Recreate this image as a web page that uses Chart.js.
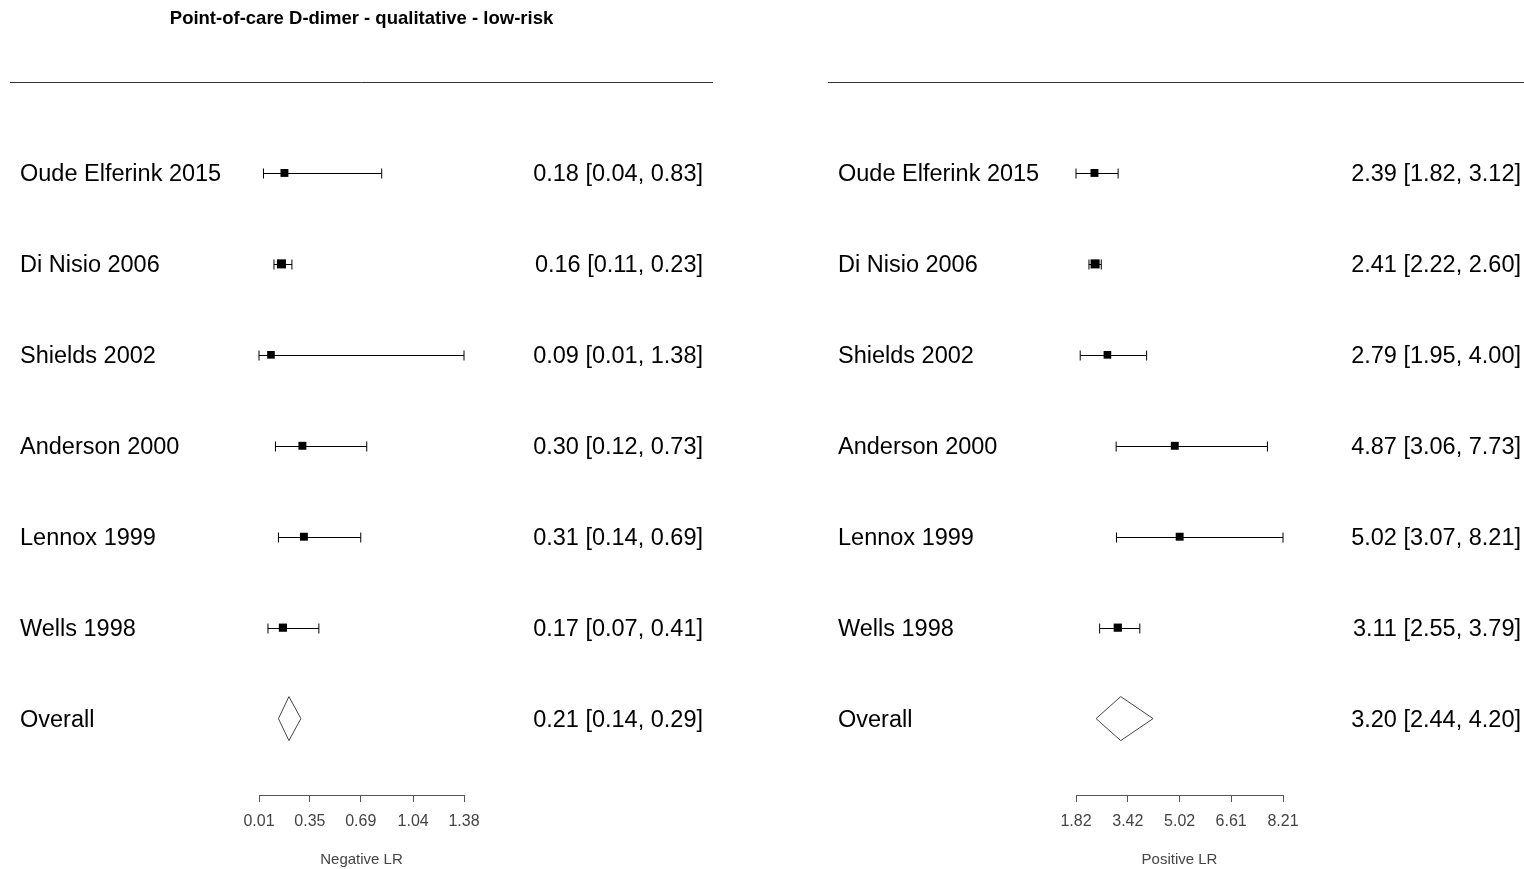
<!DOCTYPE html>
<html>
<head>
<meta charset="utf-8">
<script src="https://cdn.jsdelivr.net/npm/chart.js@4.4.1/dist/chart.umd.min.js"></script>
<style>
  html, body { margin: 0; padding: 0; background: #fff; }
  #wrap { position: relative; width: 1524px; height: 869px; }
  #wrap canvas { position: absolute; left: 0; top: 0; }
</style>
</head>
<body>
<div id="wrap">
  <canvas id="negChart" width="1524" height="869"></canvas>
  <canvas id="posChart" width="1524" height="869"></canvas>
</div>
<script>
// Forest plot data (last row is the pooled estimate)
const studies = ['Oude Elferink 2015', 'Di Nisio 2006', 'Shields 2002', 'Anderson 2000', 'Lennox 1999', 'Wells 1998', 'Overall'];

const negEst = [0.18, 0.16, 0.09, 0.30, 0.31, 0.17, 0.21];
const negLo  = [0.04, 0.11, 0.01, 0.12, 0.14, 0.07, 0.14];
const negHi  = [0.83, 0.23, 1.38, 0.73, 0.69, 0.41, 0.29];
const negTicks = [0.01, 0.35, 0.69, 1.04, 1.38];

const posEst = [2.39, 2.41, 2.79, 4.87, 5.02, 3.11, 3.20];
const posLo  = [1.82, 2.22, 1.95, 3.06, 3.07, 2.55, 2.44];
const posHi  = [3.12, 2.60, 4.00, 7.73, 8.21, 3.79, 4.20];
const posTicks = [1.82, 3.42, 5.02, 6.61, 8.21];

const plotTitle = 'Point-of-care D-dimer - qualitative - low-risk';

const FONT = "'Liberation Sans', Arial, sans-serif";
const squareRadius = [5.6, 6.4, 5.4, 5.6, 5.6, 5.8];

function fmt(v) { return v.toFixed(2); }

// draws CI whiskers, the pooled diamond, row texts and the top rule
const forestPlugin = {
    id: 'forest',
    beforeDatasetsDraw(chart) {
        const o = chart.options.plugins.forest;
        const ctx = chart.ctx, xs = chart.scales.x, ys = chart.scales.y;
        ctx.save();
        ctx.strokeStyle = '#000';
        ctx.lineWidth = 1;
        for (let i = 0; i < o.est.length - 1; i++) {
            const y = Math.round(ys.getPixelForValue(i + 1)) + 0.5;
            const x1 = xs.getPixelForValue(o.lo[i]);
            const x2 = xs.getPixelForValue(o.hi[i]);
            ctx.beginPath();
            ctx.moveTo(x1, y); ctx.lineTo(x2, y);
            ctx.moveTo(x1, y - 5); ctx.lineTo(x1, y + 5);
            ctx.moveTo(x2, y - 5); ctx.lineTo(x2, y + 5);
            ctx.stroke();
        }
        ctx.restore();
    },
    afterDraw(chart) {
        const o = chart.options.plugins.forest;
        const ctx = chart.ctx, xs = chart.scales.x, ys = chart.scales.y;
        const n = o.est.length;
        ctx.save();

        // pooled diamond
        const yd = ys.getPixelForValue(n);
        ctx.strokeStyle = '#444';
        ctx.lineWidth = 1;
        ctx.beginPath();
        ctx.moveTo(xs.getPixelForValue(o.lo[n - 1]), yd);
        ctx.lineTo(xs.getPixelForValue(o.est[n - 1]), yd - 22);
        ctx.lineTo(xs.getPixelForValue(o.hi[n - 1]), yd);
        ctx.lineTo(xs.getPixelForValue(o.est[n - 1]), yd + 22);
        ctx.closePath();
        ctx.stroke();

        // rule above the rows
        const top = Math.round(chart.chartArea.top) + 0.5;
        ctx.strokeStyle = '#333';
        ctx.beginPath();
        ctx.moveTo(o.ruleFrom, top); ctx.lineTo(o.ruleTo, top);
        ctx.stroke();

        // row labels and estimates
        ctx.fillStyle = '#000';
        ctx.font = '23.5px ' + FONT;
        ctx.textBaseline = 'middle';
        for (let i = 0; i < n; i++) {
            const y = ys.getPixelForValue(i + 1) + 2;
            ctx.textAlign = 'left';
            ctx.fillText(studies[i], o.labelX, y);
            ctx.textAlign = 'right';
            ctx.fillText(fmt(o.est[i]) + ' [' + fmt(o.lo[i]) + ', ' + fmt(o.hi[i]) + ']', o.valueX, y);
        }

        if (o.title) {
            ctx.font = 'bold 18.5px ' + FONT;
            ctx.textAlign = 'center';
            ctx.fillText(o.title, (o.ruleFrom + o.ruleTo) / 2, 19);
        }
        ctx.restore();
    }
};

function makePanel(canvasId, est, lo, hi, ticks, axisTitle, pad, forestOpts) {
    const points = est.slice(0, est.length - 1).map((v, i) => ({ x: v, y: i + 1 }));
    return new Chart(document.getElementById(canvasId).getContext('2d'), {
        type: 'scatter',
        data: {
            datasets: [{
                data: points,
                pointStyle: 'rect',
                pointRadius: squareRadius,
                backgroundColor: '#000',
                borderColor: '#000',
                borderWidth: 0
            }]
        },
        options: {
            responsive: false,
            animation: false,
            events: [],
            layout: { padding: pad },
            plugins: {
                legend: { display: false },
                tooltip: { enabled: false },
                forest: Object.assign({ est: est, lo: lo, hi: hi }, forestOpts)
            },
            scales: {
                y: { type: 'linear', display: false, reverse: true, min: 0, max: 7.84 },
                x: {
                    type: 'linear',
                    min: ticks[0],
                    max: ticks[ticks.length - 1],
                    afterBuildTicks: s => { s.ticks = ticks.map(v => ({ value: v })); },
                    afterFit: s => { s.height = 74; },
                    ticks: {
                        autoSkip: false,
                        maxRotation: 0,
                        padding: 10,
                        color: '#444',
                        font: { family: FONT, size: 16 },
                        callback: v => fmt(v)
                    },
                    grid: { display: true, drawOnChartArea: false, drawTicks: true, tickLength: 7, color: '#555' },
                    border: { display: true, color: '#555', width: 1 },
                    title: {
                        display: true,
                        text: axisTitle,
                        color: '#444',
                        font: { family: FONT, size: 15 },
                        padding: { top: 0, bottom: 0 }
                    }
                }
            }
        },
        plugins: [forestPlugin]
    });
}

makePanel('negChart', negEst, negLo, negHi, negTicks, 'Negative LR',
    { left: 259, right: 1060, top: 82, bottom: 0 },
    { labelX: 20, valueX: 703, ruleFrom: 10, ruleTo: 713, title: plotTitle });

makePanel('posChart', posEst, posLo, posHi, posTicks, 'Positive LR',
    { left: 1076, right: 241, top: 82, bottom: 0 },
    { labelX: 838, valueX: 1521, ruleFrom: 828, ruleTo: 1524, title: null });
</script>
</body>
</html>
